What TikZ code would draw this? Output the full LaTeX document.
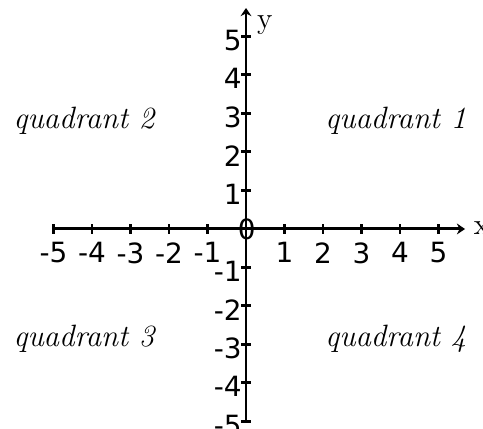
\documentclass[tikz,border=0pt]{standalone}
\usepackage{fontspec}
\newfontfamily\numfont{DejaVu Sans}
\usepackage{tikz}
\usetikzlibrary{arrows.meta,positioning}

\tikzset{
  axisline/.style={line width=1.1pt,-{Stealth[length=3pt,width=4pt]}},
  tickmark/.style={line width=1.1pt},
  numlabel/.style={font=\numfont\fontsize{10.3}{12}\selectfont,inner sep=0pt},
  axislabel/.style={font=\fontsize{11}{13}\selectfont,inner sep=0pt},
  quadlabel/.style={font=\itshape\fontsize{11.4}{13}\selectfont,inner sep=0pt,anchor=base west}
}

\begin{document}
\begin{tikzpicture}[x=0.5cm,y=0.5cm]
  \useasboundingbox (-6.39,-5.195) rectangle (6.156,5.948);

  \coordinate (xl) at (-5,0);
  \coordinate (xr) at (5.69,0);
  \coordinate (yb) at (0,-5);
  \coordinate (yt) at (0,5.74);

  \draw[axisline] (xl) -- (xr);
  \draw[axisline] (yb) -- (yt);

  \foreach \i in {-5,-4,-3,-2,-1,1,2,3,4,5} {
    \draw[tickmark] (\i,-0.12) -- (\i,0.12);
    \draw[tickmark] (-0.12,\i) -- (0.12,\i);
    \node[numlabel,anchor=north] (nx\i) at (\i,-0.34) {\i};
    \node[numlabel,anchor=east,yshift=-1.4pt] (ny\i) at (-0.1,\i) {\i};
  }
  \node[numlabel] (n0) at (0.02,0) {0};

  \node[axislabel] (ylab) at (0.49,5.3) {y};
  \node[axislabel] (xlab) at (6.12,0.02) {x};

  \node[quadlabel] (q1) at (2.05,2.62) {quadrant 1};
  \node[quadlabel] (q2) at (-6.05,2.62) {quadrant 2};
  \node[quadlabel] (q3) at (-6.05,-3.06) {quadrant 3};
  \node[quadlabel] (q4) at (2.05,-3.06) {quadrant 4};
\end{tikzpicture}
\end{document}
